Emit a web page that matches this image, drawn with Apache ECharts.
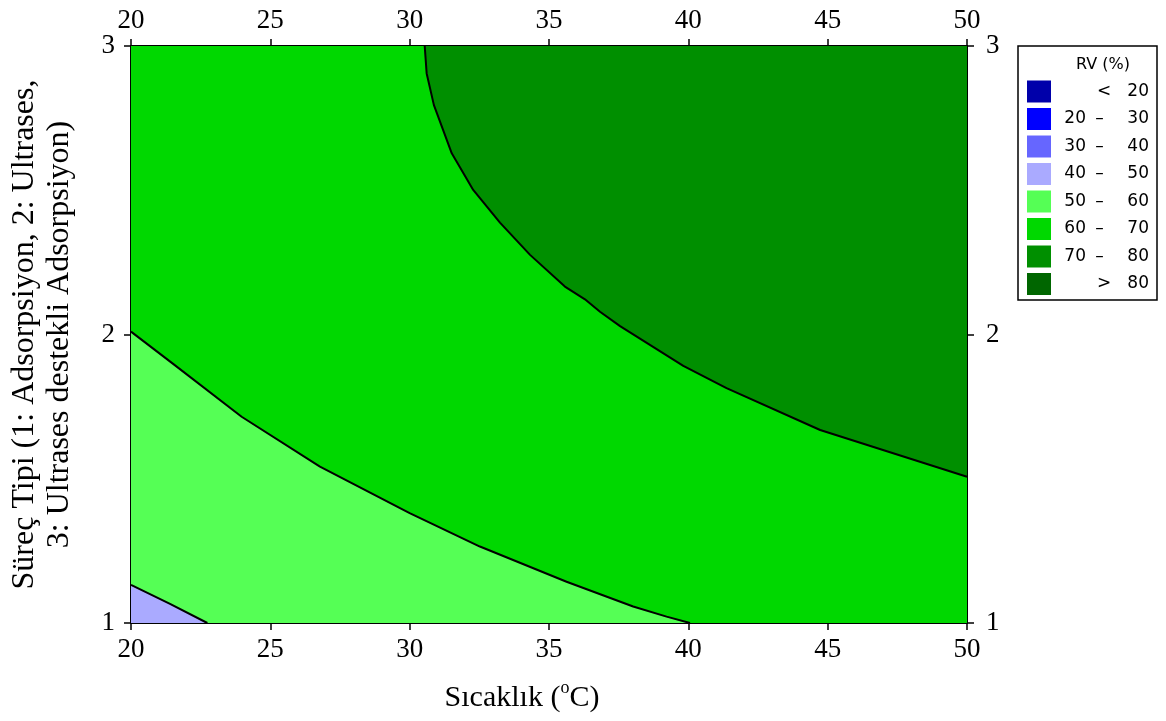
<!DOCTYPE html>
<html><head><meta charset="utf-8">
<script src="https://cdn.jsdelivr.net/npm/echarts@6/dist/echarts.min.js"></script>
<style>html,body{margin:0;padding:0;background:#fff}#c{width:1166px;height:721px}</style>
</head><body><div id="c"></div>
<script>
// axes
const xMin = 20, xMax = 50, xStep = 5;
const yMin = 1, yMax = 3, yStep = 1;
const xTitleMain = 'Sıcaklık (', xTitleSup = 'o', xTitleEnd = 'C)';
const yTitleLines = ['Süreç Tipi (1: Adsorpsiyon, 2: Ultrases,', '3: Ultrases destekli Adsorpsiyon)'];

// legend
const legendTitle = 'RV (%)';
const legendLow  = ['', '20', '30', '40', '50', '60', '70', ''];
const legendSign = ['<', '–', '–', '–', '–', '–', '–', '>'];
const legendHigh = ['20', '30', '40', '50', '60', '70', '80', '80'];
const legendColors = ['#0000AA', '#0000FF', '#6666FF', '#AAAAFF', '#55FF55', '#00D800', '#008F00', '#006600'];

// contour boundaries (Sıcaklık, Süreç Tipi)
const b40_50 = [[20, 1.132], [21.4, 1.066], [22.74, 1.0]];
const b50_60 = [[20, 2.01], [21.5, 1.899], [23.97, 1.715], [26.78, 1.542], [30.0, 1.381], [32.52, 1.265],
                [35.63, 1.143], [38.02, 1.057], [39.22, 1.022], [40.06, 1.0]];
const b60_70 = [[30.54, 3.0], [30.61, 2.905], [30.87, 2.795], [31.51, 2.628], [32.28, 2.501], [33.24, 2.388],
                [34.32, 2.276], [35.57, 2.166], [36.29, 2.122], [36.83, 2.079], [37.55, 2.029], [39.82, 1.891],
                [41.37, 1.814], [44.73, 1.669], [50.0, 1.507]];

const rev = a => a.slice().reverse();
const regions = [
  { band: 3, pts: [...b40_50, [xMin, yMin]] },
  { band: 4, pts: [...b50_60, ...rev(b40_50)] },
  { band: 5, pts: [...b60_70, [xMax, yMin], ...rev(b50_60), [xMin, yMax]] },
  { band: 6, pts: [...b60_70, [xMax, yMax]] }
];
const boundaries = [b40_50, b50_60, b60_70];

const serif = 'Liberation Serif';

const chart = echarts.init(document.getElementById('c'));

const axisCommon = {
  type: 'value',
  axisLine: { show: true, lineStyle: { color: '#000', width: 2 } },
  axisTick: { show: true, inside: false, length: 7, lineStyle: { color: '#000', width: 1.5 } },
  splitLine: { show: false },
  axisLabel: { color: '#000', fontFamily: serif, fontSize: 27 }
};

// legend graphics
const lg = [];
const boxL = 1018, boxT = 46, boxW = 139, boxH = 254;
const lf = '17px "DejaVu Sans"';
lg.push({ type: 'rect', shape: { x: boxL, y: boxT, width: boxW, height: boxH },
  style: { fill: '#fff', stroke: '#000', lineWidth: 1.5 }, z: 10 });
lg.push({ type: 'text', x: 1103, y: 65, z: 11,
  style: { text: legendTitle, font: '16px "DejaVu Sans"', fill: '#000', align: 'center', verticalAlign: 'middle' } });
for (let i = 0; i < legendColors.length; i++) {
  const cy = 91.5 + i * 27.5;
  lg.push({ type: 'rect', z: 11, shape: { x: 1027, y: cy - 11, width: 24, height: 22 },
    style: { fill: legendColors[i] } });
  if (legendLow[i]) {
    lg.push({ type: 'text', x: 1086, y: cy, z: 11,
      style: { text: legendLow[i], font: lf, fill: '#000', align: 'right', verticalAlign: 'middle' } });
  }
  lg.push({ type: 'text', x: legendLow[i] ? 1099.5 : 1104, y: cy, z: 11,
    style: { text: legendSign[i], font: lf, fill: '#000', align: 'center', verticalAlign: 'middle' } });
  lg.push({ type: 'text', x: 1149, y: cy, z: 11,
    style: { text: legendHigh[i], font: lf, fill: '#000', align: 'right', verticalAlign: 'middle' } });
}

const option = {
  backgroundColor: '#fff',
  animation: false,
  grid: { left: 131, right: 199, top: 46, bottom: 98, containLabel: false, outerBoundsMode: 'none' },
  xAxis: [
    Object.assign({}, axisCommon, {
      position: 'bottom', min: xMin, max: xMax, interval: xStep,
      axisLabel: Object.assign({}, axisCommon.axisLabel, { margin: 13 }),
      name: '{n|' + xTitleMain + '}{s|' + xTitleSup + '}{n|' + xTitleEnd + '}',
      nameLocation: 'middle', nameGap: 56,
      nameTextStyle: {
        padding: [0, 54, 0, 0],
        rich: {
          n: { fontFamily: serif, fontSize: 30, color: '#000', lineHeight: 34, verticalAlign: 'bottom' },
          s: { fontFamily: serif, fontSize: 18, color: '#000', lineHeight: 34, verticalAlign: 'top' }
        }
      }
    }),
    Object.assign({}, axisCommon, {
      position: 'top', min: xMin, max: xMax, interval: xStep,
      axisLabel: Object.assign({}, axisCommon.axisLabel, { margin: 12 })
    })
  ],
  yAxis: [
    Object.assign({}, axisCommon, {
      position: 'left', min: yMin, max: yMax, interval: yStep,
      axisLabel: Object.assign({}, axisCommon.axisLabel, { margin: 16 }),
      name: yTitleLines.join('\n'), nameLocation: 'middle', nameGap: 54, nameRotate: 90,
      nameTextStyle: { fontFamily: serif, fontSize: 32, color: '#000', lineHeight: 35, align: 'center' }
    }),
    Object.assign({}, axisCommon, {
      position: 'right', min: yMin, max: yMax, interval: yStep,
      axisLabel: Object.assign({}, axisCommon.axisLabel, { margin: 19 })
    })
  ],
  graphic: { elements: lg },
  series: [
    {
      type: 'custom',
      xAxisIndex: 0, yAxisIndex: 0,
      data: regions.map((r, i) => i),
      clip: true,
      z: 1,
      renderItem: function (params, api) {
        const r = regions[params.dataIndex];
        const pts = r.pts.map(p => api.coord(p));
        return { type: 'polygon', shape: { points: pts },
          style: { fill: legendColors[r.band], stroke: legendColors[r.band], lineWidth: 0.5 } };
      }
    },
    ...boundaries.map(b => ({
      type: 'line', xAxisIndex: 0, yAxisIndex: 0, data: b, symbol: 'none', z: 3,
      lineStyle: { color: '#000', width: 2 }, silent: true
    }))
  ]
};
chart.setOption(option);
</script></body></html>
